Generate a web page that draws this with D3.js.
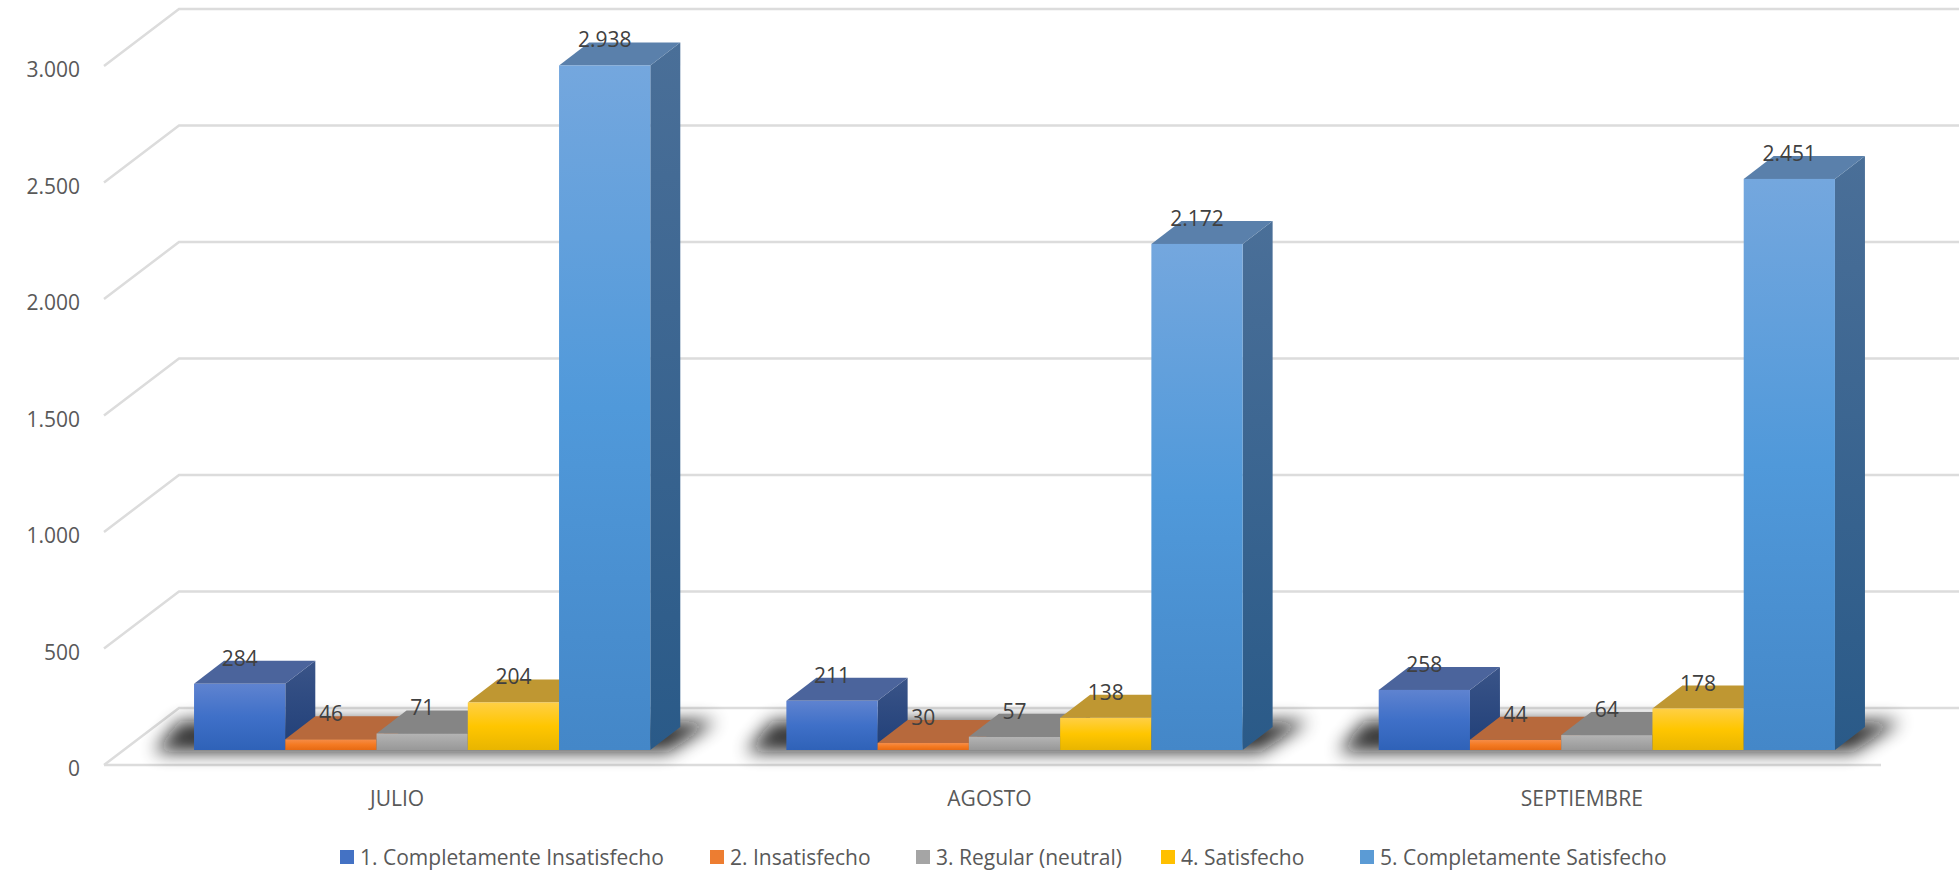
<!DOCTYPE html>
<html>
<head>
<meta charset="utf-8">
<script src="https://cdnjs.cloudflare.com/ajax/libs/d3/7.8.5/d3.min.js"></script>
<style>
html, body { margin: 0; padding: 0; background: #fff; }
svg { display: block; }
text { font-family: "Open Sans", sans-serif; }
</style>
</head>
<body>
<svg></svg>
<script>
var width = 1959
var height = 872

var months = ["JULIO", "AGOSTO", "SEPTIEMBRE"]
var seriesNames = ["1. Completamente Insatisfecho", "2. Insatisfecho", "3. Regular (neutral)", "4. Satisfecho", "5. Completamente Satisfecho"]
var julio = [284, 46, 71, 204, 2938]
var agosto = [211, 30, 57, 138, 2172]
var septiembre = [258, 44, 64, 178, 2451]
var monthValues = [julio, agosto, septiembre]
var yTicks = [0, 500, 1000, 1500, 2000, 2500, 3000]

var colorsTop = ["#5f83d0", "#f68d48", "#b4b4b4", "#ffcf45", "#74a7de"]
var colorsMid = ["#3f70c8", "#f47a22", "#a6a6a6", "#ffc600", "#5099da"]
var colorsBottom = ["#2f62b8", "#e66a14", "#989898", "#e8b500", "#4487c8"]
var colorsRoof = ["#4b649c", "#b7693c", "#858585", "#bf9732", "#5a80ab"]
var colorsSideTop = ["#3a5488", "#a3592c", "#747474", "#a88420", "#4a6f98"]
var colorsSideBottom = ["#203f78", "#8c4518", "#606060", "#8a6c10", "#2a5a88"]
var legendColors = ["#4472c4", "#ed7d31", "#a5a5a5", "#ffc000", "#5b9bd5"]

// pseudo 3d depth of the wall and of the bars
var wallDx = 75, wallDy = -57
var barDx = 30, barDy = -23

var format = d3.format(",")
var fmt = v => format(v).replace(/,/g, ".")

var svg = d3.select("svg").attr("width", width).attr("height", height)
var defs = svg.append("defs")

seriesNames.forEach((s, i) => {
  var g = defs.append("linearGradient").attr("id", "front" + i).attr("x1", 0).attr("x2", 0).attr("y1", 0).attr("y2", 1)
  g.append("stop").attr("offset", "0%").attr("stop-color", colorsTop[i])
  g.append("stop").attr("offset", "50%").attr("stop-color", colorsMid[i])
  g.append("stop").attr("offset", "100%").attr("stop-color", colorsBottom[i])
  var h = defs.append("linearGradient").attr("id", "side" + i).attr("x1", 0).attr("x2", 0).attr("y1", 0).attr("y2", 1)
  h.append("stop").attr("offset", "0%").attr("stop-color", colorsSideTop[i])
  h.append("stop").attr("offset", "100%").attr("stop-color", colorsSideBottom[i])
})
defs.append("filter").attr("id", "blur").attr("x", "-10%").attr("width", "120%").attr("y", "-80%").attr("height", "260%")
  .append("feGaussianBlur").attr("stdDeviation", 9)

// gridlines on the front edge of the floor
var yGrid = d3.scaleLinear().domain([0, 3000]).range([765, 66])
// bars stand a bit behind that edge
var yBar = d3.scaleLinear().domain([0, 3000]).range([750, 51])

var grid = svg.append("g")
yTicks.forEach(t => {
  var y = yGrid(t)
  var points = [[104, y], [104 + wallDx, y + wallDy], [width, y + wallDy]]
  grid.append("path").attr("d", d3.line()(points)).attr("fill", "none").attr("stroke", "#dcdcdc").attr("stroke-width", 2.5)
})
grid.append("line").attr("x1", 104).attr("x2", 1881).attr("y1", yGrid(0)).attr("y2", yGrid(0)).attr("stroke", "#dcdcdc").attr("stroke-width", 2.5)

svg.append("g").selectAll("text").data(yTicks).enter().append("text")
  .attr("x", 80).attr("y", d => yGrid(d) + 11)
  .attr("text-anchor", "end").attr("font-size", 21).attr("fill", "#595959")
  .text(d => fmt(d))

var xMonth = d3.scaleBand().domain(months).range([104, 1881])
var barW = 91.25
var xSeries = d3.scaleBand().domain(d3.range(5)).range([0, barW * 5])
var groupStart = m => xMonth(m) + 22 + (xMonth.bandwidth() - barW * 5) / 2

// shadows on the floor
months.forEach(m => {
  var x0 = groupStart(m), y0 = yBar(0)
  var p = [[x0 - 40, y0 + 2], [x0 - 14, y0 - 29], [x0 + barW * 5 + 66, y0 - 29], [x0 + barW * 5 + 18, y0 + 2]]
  svg.append("path").attr("d", d3.line()(p) + "Z").attr("fill", "#111").attr("opacity", 0.85).attr("filter", "url(#blur)")
})

// bars, left to right so each hides the side of the previous one
months.forEach((m, mi) => {
  var g = svg.append("g")
  monthValues[mi].forEach((v, i) => {
    var x = groupStart(m) + xSeries(i), w = xSeries.bandwidth()
    var yt = yBar(v), yb = yBar(0)
    g.append("path").attr("fill", "url(#side" + i + ")")
      .attr("d", d3.line()([[x + w, yt], [x + w + barDx, yt + barDy], [x + w + barDx, yb + barDy], [x + w, yb]]) + "Z")
    g.append("path").attr("fill", colorsRoof[i])
      .attr("d", d3.line()([[x, yt], [x + barDx, yt + barDy], [x + w + barDx, yt + barDy], [x + w, yt]]) + "Z")
    g.append("rect").attr("x", x).attr("y", yt).attr("width", w).attr("height", yb - yt).attr("fill", "url(#front" + i + ")")
  })
})

// data labels go over every bar
months.forEach((m, mi) => {
  monthValues[mi].forEach((v, i) => {
    var x = groupStart(m) + xSeries(i) + xSeries.bandwidth() / 2
    svg.append("text").attr("x", x).attr("y", yBar(v) - 18)
      .attr("text-anchor", "middle").attr("font-size", 21).attr("fill", "#404040")
      .text(fmt(v))
  })
})

svg.append("g").selectAll("text").data(months).enter().append("text")
  .attr("x", d => xMonth(d) + xMonth.bandwidth() / 2 - 3)
  .attr("y", 806).attr("text-anchor", "middle").attr("font-size", 21).attr("fill", "#595959")
  .text(d => d)

var legendX = [340, 710, 916, 1161, 1360]
var legend = svg.append("g")
seriesNames.forEach((s, i) => {
  legend.append("rect").attr("x", legendX[i]).attr("y", 850).attr("width", 14).attr("height", 14).attr("fill", legendColors[i])
  legend.append("text").attr("x", legendX[i] + 20).attr("y", 865).attr("font-size", 21).attr("fill", "#595959").text(s)
})
</script>
</body>
</html>
